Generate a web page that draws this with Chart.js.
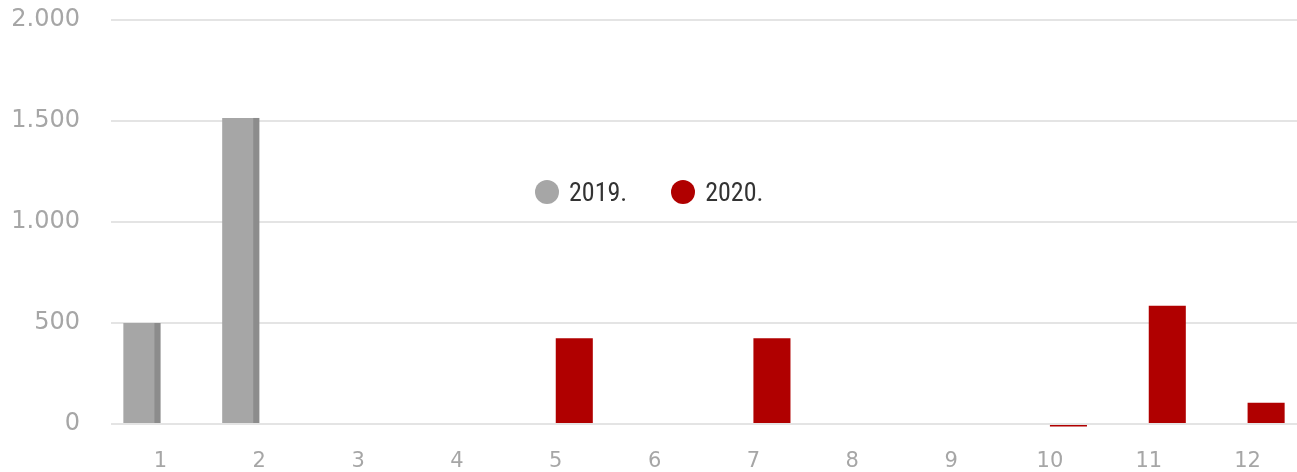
<!DOCTYPE html>
<html>
<head>
<meta charset="utf-8">
<script src="https://cdn.jsdelivr.net/npm/chart.js@4"></script>
<style>
  html, body { margin: 0; padding: 0; background: #fff; }
  #wrap { position: relative; width: 1297px; height: 472px; }
  #legend { position: absolute; left: 535px; top: 177px; display: flex; align-items: center;
    font-family: "Roboto Condensed", "Liberation Sans Narrow", Roboto, sans-serif; font-size: 26px; color: #333; }
  #legend span.dot { display: inline-block; width: 24px; height: 24px; border-radius: 50%; margin-right: 10px; }
  #legend span.item { display: flex; align-items: center; margin-right: 44px; }
</style>
</head>
<body>
<div id="wrap">
  <canvas id="chart" width="1297" height="472"></canvas>
  <div id="legend"></div>
</div>
<script>
// data
const months = ["1", "2", "3", "4", "5", "6", "7", "8", "9", "10", "11", "12"];
const values2019 = [500, 1515, null, null, null, null, null, null, null, null, null, null];
const values2020 = [null, null, null, null, 425, null, 425, null, null, -12, 585, 105];
const yTickLabels = { 0: "0", 500: "500", 1000: "1.000", 1500: "1.500", 2000: "2.000" };

const grey = "#a6a6a6";
const red = "#b00000";

// darker side face, like the 3d look in the original
const sideFace = {
  id: "sideFace",
  afterDatasetsDraw(chart) {
    const ctx = chart.ctx;
    chart.getDatasetMeta(0).data.forEach((bar, i) => {
      if (values2019[i] == null) return;
      ctx.fillStyle = "#8c8c8c";
      ctx.fillRect(bar.x + bar.width / 2 - 6, bar.y, 6, bar.base - bar.y);
    });
  }
};

new Chart(document.getElementById("chart"), {
  type: "bar",
  data: {
    labels: months,
    datasets: [
      { label: "2019.", data: values2019, backgroundColor: grey, clip: false },
      { label: "2020.", data: values2020, backgroundColor: red, clip: false }
    ]
  },
  options: {
    responsive: false,
    animation: false,
    categoryPercentage: 0.75,
    barPercentage: 1,
    layout: { padding: { top: 20, right: 0, left: 0, bottom: 0 } },
    plugins: { legend: { display: false }, tooltip: { enabled: false } },
    scales: {
      x: {
        grid: { display: false, drawTicks: false },
        border: { display: false },
        ticks: { color: "#a6a6a6", padding: 25, font: { family: "DejaVu Sans", size: 21 } },
        afterFit(axis) { axis.height = 48; }
      },
      y: {
        min: 0,
        max: 2000,
        grid: { color: "#e4e4e4", lineWidth: 2, drawTicks: false },
        border: { display: false },
        ticks: {
          stepSize: 500,
          padding: 31,
          color: "#a6a6a6",
          font: { family: "DejaVu Sans", size: 24 },
          callback: (v) => yTickLabels[v]
        },
        afterFit(axis) {
          // fixed width, and no extra top padding from the tick labels
          axis.width = 111;
          axis.paddingTop = 0;
          axis.paddingBottom = 0;
        }
      }
    }
  },
  plugins: [sideFace]
});

// legend in the middle of the plot
const legend = document.getElementById("legend");
[["2019.", grey], ["2020.", red]].forEach(([name, col]) => {
  const item = document.createElement("span");
  item.className = "item";
  item.innerHTML = '<span class="dot" style="background:' + col + '"></span>' + name;
  legend.appendChild(item);
});
</script>
</body>
</html>
